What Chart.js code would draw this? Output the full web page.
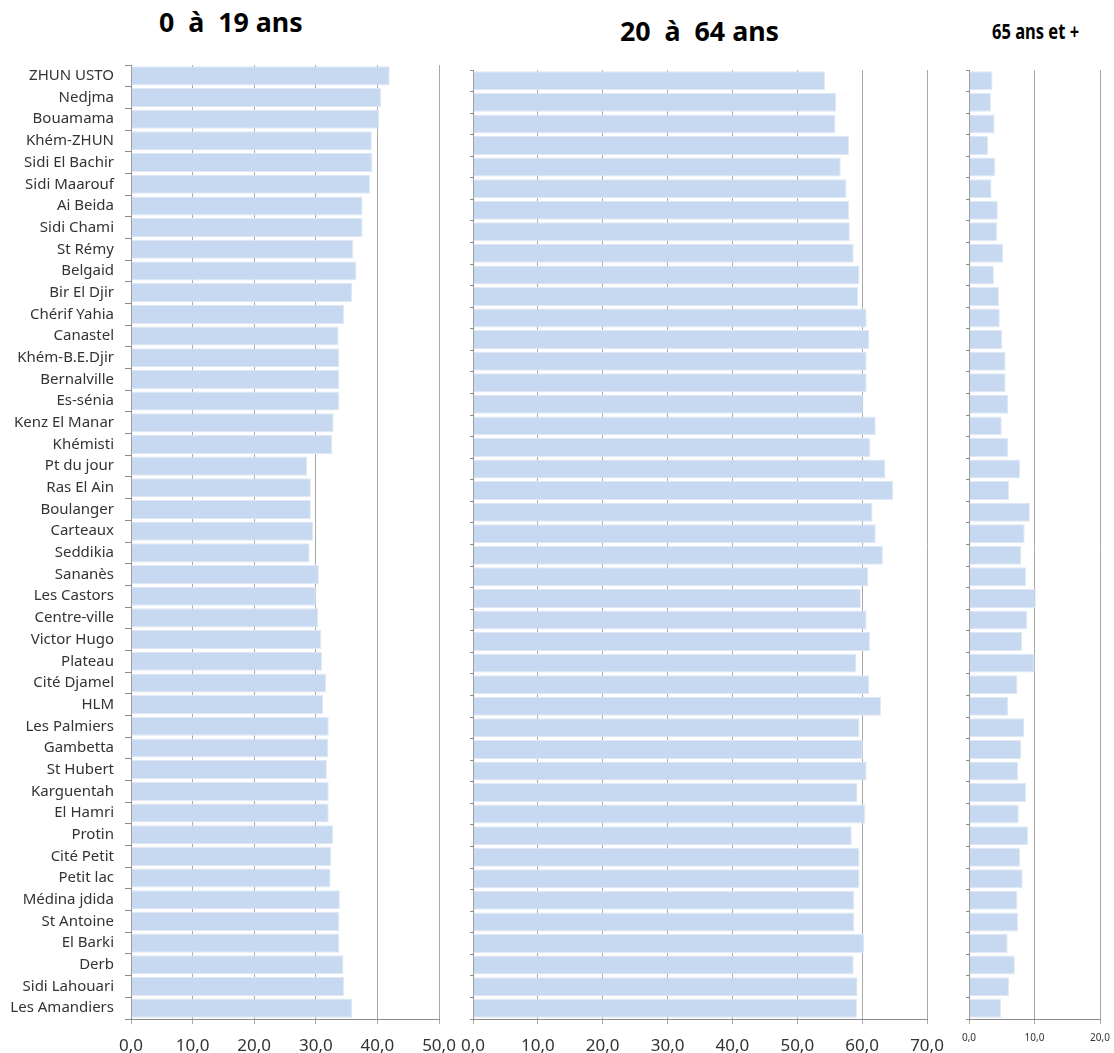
<!DOCTYPE html>
<html lang="fr">
<head>
<meta charset="utf-8">
<title>Structure par âge des quartiers</title>
<script src="https://cdn.jsdelivr.net/npm/chart.js@4.4.1/dist/chart.umd.min.js"></script>
<style>
  body { margin: 0; background: #fff; width: 1114px; height: 1053px; overflow: hidden; position: relative; font-family: "Noto Sans", sans-serif; }
  canvas { position: absolute; top: 0; }
  .titre { position: absolute; font-weight: bold; color: #000; white-space: pre; transform-origin: left top; }
</style>
</head>
<body>
<div class="titre" style="left:159px; top:4px; font-size:26px; transform:scaleX(1.03);">0  à  19 ans</div>
<div class="titre" style="left:620px; top:13px; font-size:26px; transform:scaleX(1.03);">20  à  64 ans</div>
<div class="titre" style="left:992px; top:15px; font-size:22px; transform:scaleX(0.75);">65 ans et +</div>

<canvas id="graph-jeunes" width="470" height="1053" style="left:0px"></canvas>
<canvas id="graph-actifs" width="520" height="1053" style="left:440px"></canvas>
<canvas id="graph-seniors" width="174" height="1053" style="left:940px"></canvas>

<script>
// Quartiers (de haut en bas)
const quartiers = [
  "ZHUN USTO", "Nedjma", "Bouamama", "Khém-ZHUN", "Sidi El Bachir", "Sidi Maarouf",
  "Ai Beida", "Sidi Chami", "St Rémy", "Belgaid", "Bir El Djir", "Chérif Yahia",
  "Canastel", "Khém-B.E.Djir", "Bernalville", "Es-sénia", "Kenz El Manar", "Khémisti",
  "Pt du jour", "Ras El Ain", "Boulanger", "Carteaux", "Seddikia", "Sananès",
  "Les Castors", "Centre-ville", "Victor Hugo", "Plateau", "Cité Djamel", "HLM",
  "Les Palmiers", "Gambetta", "St Hubert", "Karguentah", "El Hamri", "Protin",
  "Cité Petit", "Petit lac", "Médina jdida", "St Antoine", "El Barki", "Derb",
  "Sidi Lahouari", "Les Amandiers"
];

// Part (%) de chaque tranche d'âge
const ans0a19 = [
  42.0, 40.6, 40.3, 39.1, 39.2, 38.8,
  37.6, 37.6, 36.1, 36.6, 35.9, 34.6,
  33.7, 33.8, 33.8, 33.8, 32.9, 32.7,
  28.6, 29.2, 29.2, 29.6, 29.0, 30.5,
  30.0, 30.4, 30.9, 31.0, 31.7, 31.2,
  32.1, 32.0, 31.8, 32.1, 32.1, 32.8,
  32.5, 32.4, 33.9, 33.8, 33.8, 34.5,
  34.6, 35.9
];
const ans20a64 = [
  54.3, 56.0, 55.9, 58.0, 56.7, 57.6,
  58.0, 58.1, 58.7, 59.6, 59.4, 60.7,
  61.1, 60.7, 60.7, 60.2, 62.1, 61.3,
  63.6, 64.8, 61.6, 62.1, 63.2, 60.9,
  59.8, 60.7, 61.2, 59.1, 61.1, 62.9,
  59.6, 60.1, 60.7, 59.3, 60.5, 58.4,
  59.6, 59.6, 58.8, 58.8, 60.3, 58.7,
  59.3, 59.2
];
const ans65plus = [
  3.6, 3.35, 3.9, 2.9, 4.0, 3.45,
  4.4, 4.3, 5.2, 3.8, 4.6, 4.7,
  5.1, 5.6, 5.6, 6.0, 5.0, 6.0,
  7.8, 6.1, 9.3, 8.5, 8.0, 8.7,
  10.2, 8.9, 8.1, 10.0, 7.4, 6.0,
  8.4, 8.0, 7.5, 8.7, 7.6, 9.0,
  7.8, 8.2, 7.4, 7.5, 5.9, 7.0,
  6.1, 4.9
];

// bornes des axes horizontaux
const maxAxes = [50, 70, 20];
const pasAxe = 10;

const couleurBarre = "#c6d9f0";
const couleurGrille = "#a8a8a8";

function formatVirgule(v) {
  return Number(v).toFixed(1).replace(".", ",");
}

// Fonction qui dessine un panneau (une tranche d'âge)
function creerGraphique(idCanvas, valeurs, cfg) {
  const ctx = document.getElementById(idCanvas).getContext("2d");

  new Chart(ctx, {
    type: "bar",
    data: {
      labels: quartiers,
      datasets: [{
        data: valeurs,
        backgroundColor: couleurBarre,
        borderColor: "#dfe8f4",
        borderWidth: 1,
        barPercentage: 0.88,
        categoryPercentage: 1
      }]
    },
    options: {
      indexAxis: "y",
      responsive: false,
      animation: false,
      layout: { padding: { left: 0, top: cfg.haut, right: cfg.droite, bottom: 0 } },
      plugins: {
        legend: { display: false },
        tooltip: { enabled: false }
      },
      scales: {
        y: {
          type: "category",
          offset: true,
          grid: { drawOnChartArea: false, offset: true, tickLength: cfg.afficherNoms ? 6 : 3, color: "#8c8c8c" },
          border: { color: "#8c8c8c" },
          ticks: {
            display: cfg.afficherNoms,
            autoSkip: false,
            padding: 11,
            color: "#333",
            font: { family: "Noto Sans", size: 15 }
          },
          afterFit: (s) => { s.width = cfg.largeurY; }
        },
        x: {
          type: "linear",
          min: 0,
          max: cfg.max,
          grid: { color: couleurGrille, tickLength: 5 },
          border: { color: "#8c8c8c" },
          ticks: {
            stepSize: pasAxe,
            padding: cfg.paddingTicks,
            color: "#333",
            font: { family: "Noto Sans", size: cfg.taillePolice },
            callback: (v) => formatVirgule(v)
          },
          afterFit: (s) => {
            s.height = cfg.hauteurX;
            s.paddingLeft = 0;
            s.paddingRight = 0;
          }
        }
      }
    }
  });
}

creerGraphique("graph-jeunes", ans0a19, {
  max: maxAxes[0], afficherNoms: true, largeurY: 131, haut: 65, droite: 31,
  hauteurX: 34, taillePolice: 17, paddingTicks: 12
});
creerGraphique("graph-actifs", ans20a64, {
  max: maxAxes[1], afficherNoms: false, largeurY: 33, haut: 70, droite: 33,
  hauteurX: 34, taillePolice: 17, paddingTicks: 12
});
creerGraphique("graph-seniors", ans65plus, {
  max: maxAxes[2], afficherNoms: false, largeurY: 29, haut: 70, droite: 14,
  hauteurX: 34, taillePolice: 10, paddingTicks: 8
});
</script>
</body>
</html>
